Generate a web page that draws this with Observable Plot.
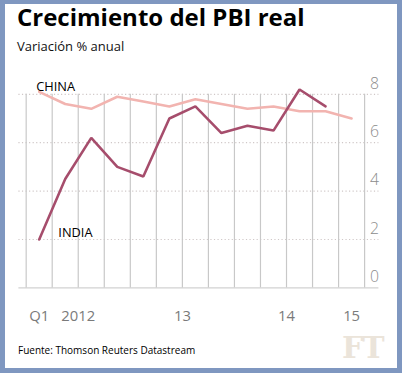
<!DOCTYPE html>
<html>
<head>
<meta charset="utf-8">
<script src="https://cdn.jsdelivr.net/npm/d3@7"></script>
<script src="https://cdn.jsdelivr.net/npm/@observablehq/plot@0.6"></script>
<style>
  html, body { margin: 0; padding: 0; background: #fff; }
  #frame { position: relative; width: 402px; height: 373px; box-sizing: border-box;
           border: 5px solid #7f97c0; border-top-width: 4px; overflow: hidden; background: #fff; }
  #chart { position: absolute; left: -5px; top: -4px; }
  .t { position: absolute; font-family: "Open Sans", sans-serif; white-space: nowrap; }
  #title { left: 12px; top: -4px; font-size: 24px; font-weight: 700; color: #000; }
  #subtitle { left: 12px; top: 33px; font-size: 13px; color: #111; }
  #source { left: 13px; top: 339px; font-size: 10px; color: #000; }
  #ft { left: 337px; top: 326px; font-family: "DejaVu Serif", serif; font-weight: 700; font-size: 30px; color: #ebe4da; letter-spacing: -1px; }
</style>
</head>
<body>
<div id="frame">
  <div id="chart"></div>
  <div class="t" id="title">Crecimiento del PBI real</div>
  <div class="t" id="subtitle">Variación % anual</div>
  <div class="t" id="source">Fuente: Thomson Reuters Datastream</div>
  <div class="t" id="ft">FT</div>
</div>
<script>
// Quarters Q1 2012 .. Q1 2015 (index 0..12)
const quarters = ["2012Q1","2012Q2","2012Q3","2012Q4","2013Q1","2013Q2","2013Q3","2013Q4","2014Q1","2014Q2","2014Q3","2014Q4","2015Q1"];
const china = [8.1, 7.6, 7.4, 7.9, 7.7, 7.5, 7.8, 7.6, 7.4, 7.5, 7.3, 7.3, 7.0];
const india = [2.0, 4.5, 6.2, 5.0, 4.6, 7.0, 7.5, 6.4, 6.7, 6.5, 8.2, 7.5];
const yTicks = [0, 2, 4, 6, 8];
const xTickLabels = ["Q1", "2012", "13", "14", "15"];
const xTickLabelPos = [0, 1.5, 5.5, 9.5, 12];
const seriesLabels = ["CHINA", "INDIA"];

const chinaData = china.map((v, i) => ({i, v}));
const indiaData = india.map((v, i) => ({i, v}));
const boundaries = d3.range(quarters.length + 1).map(i => i - 0.5);
const xLabels = xTickLabels.map((t, k) => ({t, x: xTickLabelPos[k]}));
const gridLeft = -0.78, gridRight = 13.05;

const plot = Plot.plot({
  width: 402, height: 373,
  marginLeft: 26, marginRight: 33.3, marginTop: 95, marginBottom: 82,
  x: {domain: [-0.5, 12.5], axis: null},
  y: {domain: [0, 8], axis: null},
  style: {background: "transparent", fontFamily: "'Open Sans', sans-serif"},
  marks: [
    Plot.ruleY(yTicks.filter(d => d > 0), {y: d => d, x1: gridLeft, x2: gridRight, stroke: "#d0c8c8", strokeWidth: 1.2, strokeDasharray: "1.2,2.4"}),
    Plot.ruleY([0], {x1: gridLeft, x2: gridRight, stroke: "#d2d2d2", strokeWidth: 1.5}),
    Plot.text(yTicks, {x: gridRight, y: d => d, text: d => String(d), textAnchor: "end", dy: -11, fontSize: 16, fill: "#8c8c8c", fontWeight: 300, fontFamily: "'Open Sans', sans-serif"}),
    Plot.tickX(boundaries, {x: d => d, y1: 0, y2: -9 / 24.5, stroke: "#c8c8c8", strokeWidth: 1.2}),
    Plot.text(xLabels, {x: "x", y: 0, text: "t", dy: 29, fontSize: 15, fill: "#7a7a7a", fontFamily: "'Open Sans', sans-serif"}),
    Plot.line(chinaData, {x: "i", y: "v", stroke: "#f2b4b0", strokeWidth: 2.6, strokeLinejoin: "miter"}),
    Plot.line(indiaData, {x: "i", y: "v", stroke: "#a64d6c", strokeWidth: 2.6, strokeLinejoin: "miter"}),
    Plot.text([seriesLabels[0]], {x: 0, y: 8, text: d => d, textAnchor: "start", dx: -3, dy: -8, fontSize: 13, fill: "#000"}),
    Plot.text([seriesLabels[1]], {x: 1, y: 2, text: d => d, textAnchor: "start", dx: -7, dy: -7, fontSize: 13, fill: "#000"})
  ]
});
document.getElementById("chart").appendChild(plot);
</script>
</body>
</html>
